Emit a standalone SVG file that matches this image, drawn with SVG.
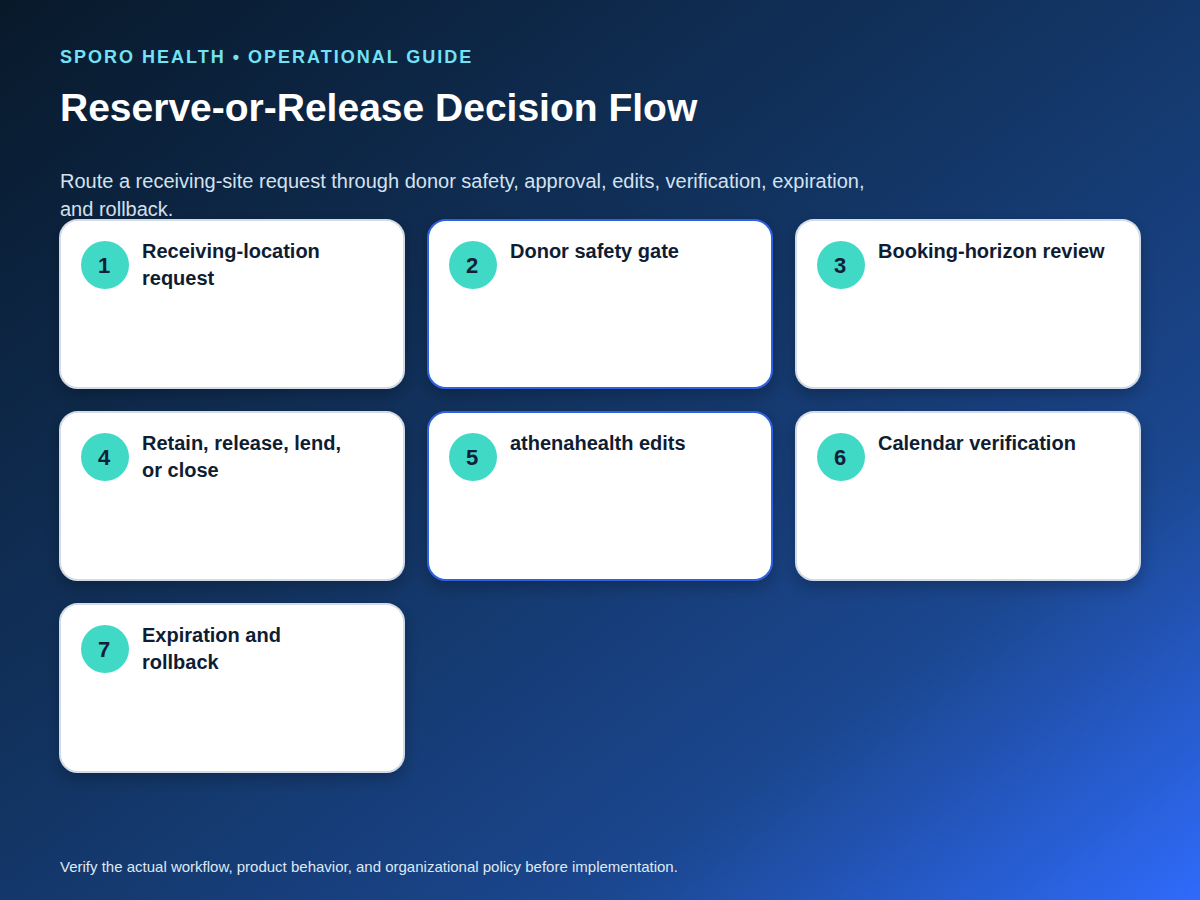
<svg xmlns="http://www.w3.org/2000/svg" width="1200" height="900" viewBox="0 0 1200 900">
<defs>
<linearGradient id="bg" x1="0" y1="0" x2="1" y2="1">
<stop offset="0" stop-color="#08192a"/>
<stop offset="0.45" stop-color="#123462"/>
<stop offset="0.75" stop-color="#1b4790"/>
<stop offset="1" stop-color="#2f6bfb"/>
</linearGradient>
<filter id="sh" x="-10%" y="-10%" width="120%" height="130%"><feDropShadow dx="0" dy="6" stdDeviation="8" flood-color="#000" flood-opacity="0.25"/></filter>
<style>
text{font-family:"Liberation Sans",Arial,sans-serif}
.card{fill:#fff;stroke:#d3dbe6;stroke-width:2;filter:url(#sh)}
.hl{stroke:#2f62e0}
.badge{fill:#40d9c5}
.num{font-size:22px;font-weight:bold;fill:#10203a;text-anchor:middle}
.lbl{font-size:20px;font-weight:bold;fill:#0f1d33}
</style>
</defs>
<rect width="1200" height="900" fill="url(#bg)"/>
<text x="60" y="63" font-size="18" font-weight="bold" fill="#73e2f5" letter-spacing="2">SPORO HEALTH • OPERATIONAL GUIDE</text>
<text x="60" y="121" font-size="39" font-weight="bold" fill="#fff">Reserve-or-Release Decision Flow</text>
<text x="60" y="188" font-size="20" fill="#d5e1ef">Route a receiving-site request through donor safety, approval, edits, verification, expiration,</text>
<text x="60" y="216" font-size="20" fill="#d5e1ef">and rollback.</text>
<g id="connectors"/>
<g id="n1"><rect class="card" x="60" y="220" width="344" height="168" rx="18"/><circle class="badge" cx="105" cy="265" r="24"/><text class="num" x="104" y="273">1</text><text class="lbl" x="142" y="258">Receiving-location</text><text class="lbl" x="142" y="285">request</text></g>
<g id="n2"><rect class="card hl" x="428" y="220" width="344" height="168" rx="18"/><circle class="badge" cx="473" cy="265" r="24"/><text class="num" x="472" y="273">2</text><text class="lbl" x="510" y="258">Donor safety gate</text></g>
<g id="n3"><rect class="card" x="796" y="220" width="344" height="168" rx="18"/><circle class="badge" cx="841" cy="265" r="24"/><text class="num" x="840" y="273">3</text><text class="lbl" x="878" y="258">Booking-horizon review</text></g>
<g id="n4"><rect class="card" x="60" y="412" width="344" height="168" rx="18"/><circle class="badge" cx="105" cy="457" r="24"/><text class="num" x="104" y="465">4</text><text class="lbl" x="142" y="450">Retain, release, lend,</text><text class="lbl" x="142" y="477">or close</text></g>
<g id="n5"><rect class="card hl" x="428" y="412" width="344" height="168" rx="18"/><circle class="badge" cx="473" cy="457" r="24"/><text class="num" x="472" y="465">5</text><text class="lbl" x="510" y="450">athenahealth edits</text></g>
<g id="n6"><rect class="card" x="796" y="412" width="344" height="168" rx="18"/><circle class="badge" cx="841" cy="457" r="24"/><text class="num" x="840" y="465">6</text><text class="lbl" x="878" y="450">Calendar verification</text></g>
<g id="n7"><rect class="card" x="60" y="604" width="344" height="168" rx="18"/><circle class="badge" cx="105" cy="649" r="24"/><text class="num" x="104" y="657">7</text><text class="lbl" x="142" y="642">Expiration and</text><text class="lbl" x="142" y="669">rollback</text></g>
<text x="60" y="872" font-size="15" fill="#dfe8f3">Verify the actual workflow, product behavior, and organizational policy before implementation.</text>
</svg>
